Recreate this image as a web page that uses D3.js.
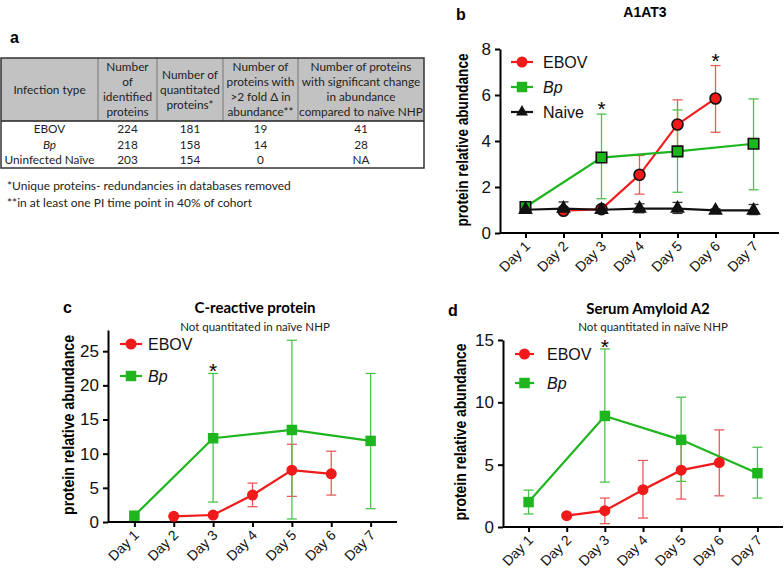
<!DOCTYPE html>
<html><head><meta charset="utf-8">
<script src="https://cdn.jsdelivr.net/npm/d3@7/dist/d3.min.js"></script>
<style>
body{margin:0;background:#fff;}
svg{display:block;}
</style></head>
<body>
<svg id="c" width="784" height="569"></svg>
<script>
// ---------------- DATA ----------------
const days = ["Day 1","Day 2","Day 3","Day 4","Day 5","Day 6","Day 7"];

// Panel b: A1AT3
const a1at3Ebov   = [null, 0.97, 1.04, 2.53, 4.72, 5.85, null];
const a1at3EbovLo = [null, 0.90, 0.95, 1.69, 3.70, 4.38, null];
const a1at3EbovHi = [null, 1.05, 1.20, 3.37, 5.79, 7.28, null];
const a1at3Bp     = [1.13, null, 3.28, null, 3.55, null, 3.88];
const a1at3BpLo   = [1.00, null, 1.49, null, 1.77, null, 1.88];
const a1at3BpHi   = [1.25, null, 5.17, null, 5.35, null, 5.83];
const a1at3Naive   = [1.01, 1.06, 1.01, 1.06, 1.06, 0.98, 0.98];
const a1at3NaiveLo = [0.90, 0.85, 0.90, 0.88, 0.85, 0.90, 0.80];
const a1at3NaiveHi = [1.10, 1.35, 1.15, 1.27, 1.33, 1.05, 1.24];
const a1at3Stars = ["Day 3", "Day 6"];

// Panel c: C-reactive protein
const crpEbov   = [null, 0.83, 1.02, 3.94, 7.59, 7.05, null];
const crpEbovLo = [null, 0.70, 0.80, 2.24, 3.75, 3.94, null];
const crpEbovHi = [null, 0.95, 1.25, 5.69, 11.38, 10.36, null];
const crpBp     = [0.92, null, 12.26, null, 13.47, null, 11.87];
const crpBpLo   = [0.80, null, 2.92, null, 0.44, null, 1.95];
const crpBpHi   = [1.05, null, 21.74, null, 26.60, null, 21.74];
const crpStars = ["Day 3"];

// Panel d: Serum Amyloid A2
const saaEbov   = [null, 0.91, 1.31, 2.99, 4.56, 5.17, null];
const saaEbovLo = [null, 0.80, 0.27, 0.72, 2.24, 2.50, null];
const saaEbovHi = [null, 1.00, 2.32, 5.34, 6.90, 7.79, null];
const saaBp     = [2.00, null, 8.91, null, 6.99, null, 4.32];
const saaBpLo   = [1.04, null, 3.60, null, 3.66, null, 2.32];
const saaBpHi   = [2.96, null, 14.28, null, 10.41, null, 6.40];
const saaStars = ["Day 3"];

// Panel a: table
const tableHeaders = [
  ["Infection type"],
  ["Number","of","identified","proteins"],
  ["Number of","quantitated","proteins*"],
  ["Number of","proteins with",">2 fold \u0394 in","abundance**"],
  ["Number of proteins","with significant change","in abundance","compared to na\u00efve NHP"]
];
const tableRowNames = ["EBOV","Bp","Uninfected Na\u00efve"];
const tableIdentified = [224, 218, 203];
const tableQuantitated = [181, 158, 154];
const tableFold = [19, 14, 0];
const tableSignificant = ["41","28","NA"];
const footnotes = ["*Unique proteins- redundancies in databases removed",
                   "**in at least one PI time point in 40% of cohort"];

// ---------------- STYLE ----------------
const RED = "#f01a1a", RED_ERR = "#ec5a5a";
const GREEN = "#1fb51f", GREEN_ERR = "#4cc44c";
const SANS = "'Liberation Sans', Arial, sans-serif";
const CAL = "Lato, 'Open Sans', sans-serif";

const svg = d3.select("#c");

// ---------------- TABLE ----------------
(function drawTable(){
  const g = svg.append("g");
  const colX = [1, 98, 157, 223, 298, 424];
  const top = 58, headBottom = 121, bottom = 168;
  const rowY = [121, 137, 152, 168];
  const FS = 11.8;
  g.append("rect").attr("x", colX[0]).attr("y", top)
    .attr("width", colX[5]-colX[0]).attr("height", headBottom-top)
    .attr("fill", "#c2c2c2");
  colX.slice(1,5).forEach(x => g.append("line").attr("x1",x).attr("x2",x)
    .attr("y1",top).attr("y2",headBottom).attr("stroke","#777").attr("stroke-width",1));
  g.append("line").attr("x1",colX[0]).attr("x2",colX[5]).attr("y1",headBottom).attr("y2",headBottom)
    .attr("stroke","#222").attr("stroke-width",1.5);
  g.append("rect").attr("x", colX[0]).attr("y", top)
    .attr("width", colX[5]-colX[0]).attr("height", bottom-top)
    .attr("fill","none").attr("stroke","#333").attr("stroke-width",1.5);
  const cx = i => (colX[i]+colX[i+1])/2;
  const lh = 15;
  tableHeaders.forEach((lines, i) => {
    const mid = (top+headBottom)/2;
    const start = mid - (lines.length-1)*lh/2;
    lines.forEach((t, j) => {
      g.append("text").attr("x", cx(i)).attr("y", start + j*lh)
        .attr("dy","0.35em").attr("text-anchor","middle")
        .attr("font-family",CAL).attr("font-size",FS).attr("fill","#222").text(t);
    });
  });
  const cols = [tableRowNames, tableIdentified, tableQuantitated, tableFold, tableSignificant];
  tableRowNames.forEach((r, ri) => {
    const y = (rowY[ri]+rowY[ri+1])/2;
    cols.forEach((col, ci) => {
      g.append("text").attr("x", cx(ci)).attr("y", y).attr("dy","0.35em")
        .attr("text-anchor","middle").attr("font-family",CAL).attr("font-size",FS)
        .attr("font-style", (ci===0 && r==="Bp") ? "italic" : "normal")
        .attr("fill","#222").text(col[ri]);
    });
  });
  footnotes.forEach((t,i) => {
    g.append("text").attr("x", 7).attr("y", 186 + i*17).attr("dy","0.35em")
      .attr("font-family",CAL).attr("font-size",12).attr("fill","#222").text(t);
  });
  svg.append("text").attr("x",10).attr("y",43).attr("font-family",SANS)
    .attr("font-weight","bold").attr("font-size",16).text("a");
})();

// ---------------- PANELS ----------------
function marker(sel, type, x, y, fill, stroke){
  let sym, size;
  if (type==="circle"){ sym = d3.symbolCircle; size = 95; }
  else if (type==="square"){ sym = d3.symbolSquare; size = 110; }
  else { sym = d3.symbolTriangle; size = 62; }
  sel.append("path").attr("d", d3.symbol().type(sym).size(size)())
    .attr("transform", `translate(${x},${y})`)
    .attr("fill", fill).attr("stroke", stroke || "none").attr("stroke-width", stroke ? 1.6 : 0);
}

function panel(cfg){
  const g = svg.append("g");
  const x = d3.scalePoint().domain(days).range(cfg.xRange).padding(0.67);
  const y = d3.scaleLinear().domain(cfg.yDomain).range(cfg.yRange);
  const y0 = cfg.yRange[0];

  const ya = g.append("g").attr("transform",`translate(${cfg.xRange[0]},0)`)
    .call(d3.axisLeft(y).tickValues(cfg.yTicks).tickSize(5).tickSizeOuter(0).tickPadding(4));
  ya.select(".domain").attr("stroke-width",2);
  ya.selectAll(".tick line").attr("stroke-width",2);
  ya.selectAll("text").attr("font-family",SANS).attr("font-size",17).attr("fill","#111");

  const xa = g.append("g").attr("transform",`translate(0,${y0})`)
    .call(d3.axisBottom(x).tickSize(5).tickSizeOuter(0));
  xa.select(".domain").attr("stroke-width",2).attr("d", `M${cfg.xRange[0]},0H${cfg.xRange[1]}`);
  xa.selectAll(".tick line").attr("stroke-width",2);
  xa.selectAll("text").attr("font-family",SANS).attr("font-size",14).attr("fill","#111")
    .attr("text-anchor","end").attr("dy",0).attr("y",0)
    .attr("transform","translate(5,14) rotate(-45)");

  g.append("text").attr("transform",`translate(${cfg.ylabX},${cfg.ylabY}) rotate(-90)`)
    .attr("text-anchor","middle").attr("dy","0.35em")
    .attr("font-family",SANS).attr("font-weight","bold").attr("font-size",16)
    .attr("textLength",cfg.ylabLen).attr("lengthAdjust","spacingAndGlyphs")
    .text("protein relative abundance");

  g.append("text").attr("x",cfg.titleX).attr("y",cfg.titleY).attr("dy","0.35em")
    .attr("text-anchor","middle").attr("font-family",cfg.titleFont).attr("font-weight","bold")
    .attr("font-size",cfg.titleSize).text(cfg.title);
  if (cfg.subtitle){
    g.append("text").attr("x",cfg.subX).attr("y",cfg.subY).attr("dy","0.35em")
      .attr("text-anchor","middle").attr("font-family",CAL).attr("font-size",11.5)
      .attr("fill","#222").text(cfg.subtitle);
  }
  g.append("text").attr("x",cfg.letterX).attr("y",cfg.letterY).attr("dy","0.35em")
    .attr("font-family",SANS).attr("font-weight","bold").attr("font-size",16).text(cfg.letter);

  cfg.series.forEach(s => {
    s.vals.forEach((v,i) => {
      if (v==null) return;
      const xx = x(days[i]);
      const yl = y(s.lo[i]), yh = y(s.hi[i]);
      g.append("line").attr("x1",xx).attr("x2",xx).attr("y1",yl).attr("y2",yh)
        .attr("stroke",s.err).attr("stroke-width",1.3);
      [yl,yh].forEach(yy => g.append("line").attr("x1",xx-5).attr("x2",xx+5)
        .attr("y1",yy).attr("y2",yy).attr("stroke",s.err).attr("stroke-width",1.3));
    });
  });
  cfg.series.forEach(s => {
    const pts = s.vals.map((v,i)=>[days[i],v]).filter(d=>d[1]!=null);
    g.append("path").datum(pts)
      .attr("d", d3.line().x(d=>x(d[0])).y(d=>y(d[1])))
      .attr("fill","none").attr("stroke",s.color).attr("stroke-width",2.2);
  });
  cfg.series.forEach(s => {
    s.vals.forEach((v,i) => {
      if (v==null) return;
      marker(g, s.marker, x(days[i]), y(v), s.color, cfg.markerStroke);
    });
  });
  cfg.stars.forEach(d => {
    const i = days.indexOf(d);
    const hi = d3.max(cfg.series, s => s.vals[i]==null ? null : s.hi[i]);
    g.append("text").attr("x",x(d)).attr("y",y(hi)+cfg.starOff)
      .attr("text-anchor","middle").attr("font-family",SANS).attr("font-size",21).text("*");
  });
  cfg.series.forEach((s,k) => {
    const ly = cfg.legY + k*cfg.legStep;
    g.append("line").attr("x1",cfg.legLine[0]).attr("x2",cfg.legLine[1]).attr("y1",ly).attr("y2",ly)
      .attr("stroke",s.color).attr("stroke-width",2.2);
    marker(g, s.marker, (cfg.legLine[0]+cfg.legLine[1])/2, ly, s.color, null);
    g.append("text").attr("x",cfg.legText).attr("y",ly).attr("dy","0.35em")
      .attr("font-family",SANS).attr("font-size",16).attr("fill","#111")
      .attr("font-style", s.name==="Bp" ? "italic" : "normal").text(s.name);
  });
}

panel({
  xRange:[500,779], yDomain:[0,8], yRange:[233,49], yTicks:[0,2,4,6,8],
  ylabX:462, ylabY:140, ylabLen:173,
  title:"A1AT3", titleX:645, titleY:12, titleFont:SANS, titleSize:14,
  letter:"b", letterX:456, letterY:14,
  markerStroke:"#111",
  series:[
    {name:"EBOV", vals:a1at3Ebov, lo:a1at3EbovLo, hi:a1at3EbovHi, color:RED, err:RED_ERR, marker:"circle"},
    {name:"Bp", vals:a1at3Bp, lo:a1at3BpLo, hi:a1at3BpHi, color:GREEN, err:GREEN_ERR, marker:"square"},
    {name:"Naive", vals:a1at3Naive, lo:a1at3NaiveLo, hi:a1at3NaiveHi, color:"#111", err:"#333", marker:"triangle"}
  ],
  stars:a1at3Stars, starOff:2,
  legY:62, legStep:25, legLine:[511,533], legText:543
});

panel({
  xRange:[108,397], yDomain:[0,28.1], yRange:[522,330], yTicks:[0,5,10,15,20,25],
  ylabX:68, ylabY:425, ylabLen:180,
  title:"C-reactive protein", titleX:255, titleY:308, titleFont:CAL, titleSize:15,
  subtitle:"Not quantitated in na\u00efve NHP", subX:255, subY:327,
  letter:"c", letterX:63, letterY:307,
  markerStroke:null,
  series:[
    {name:"EBOV", vals:crpEbov, lo:crpEbovLo, hi:crpEbovHi, color:RED, err:RED_ERR, marker:"circle"},
    {name:"Bp", vals:crpBp, lo:crpBpLo, hi:crpBpHi, color:GREEN, err:GREEN_ERR, marker:"square"}
  ],
  stars:crpStars, starOff:5,
  legY:344, legStep:32, legLine:[120,142], legText:148
});

panel({
  xRange:[503,783], yDomain:[0,15], yRange:[527,340], yTicks:[0,5,10,15],
  ylabX:460, ylabY:432, ylabLen:177,
  title:"Serum Amyloid A2", titleX:648, titleY:309, titleFont:CAL, titleSize:15,
  subtitle:"Not quantitated in na\u00efve NHP", subX:653, subY:327,
  letter:"d", letterX:448, letterY:310,
  markerStroke:null,
  series:[
    {name:"EBOV", vals:saaEbov, lo:saaEbovLo, hi:saaEbovHi, color:RED, err:RED_ERR, marker:"circle"},
    {name:"Bp", vals:saaBp, lo:saaBpLo, hi:saaBpHi, color:GREEN, err:GREEN_ERR, marker:"square"}
  ],
  stars:saaStars, starOff:5.5,
  legY:354, legStep:29, legLine:[515,534], legText:547
});
</script>
</body></html>
